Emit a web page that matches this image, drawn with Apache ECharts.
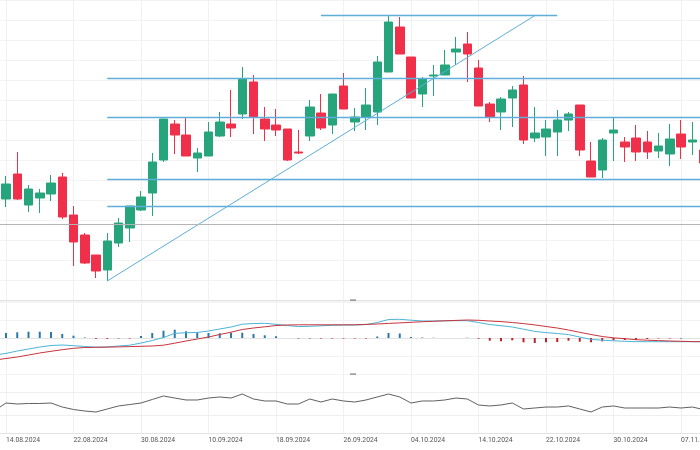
<!DOCTYPE html>
<html>
<head>
<meta charset="utf-8">
<script src="https://cdn.jsdelivr.net/npm/echarts@6/dist/echarts.min.js"></script>
<style>
html,body{margin:0;padding:0;background:#fff;}
#c{width:700px;height:450px;}
</style>
</head>
<body>
<div id="c"></div>
<script>
const dates = ['13.08.2024','14.08.2024','15.08.2024','16.08.2024','19.08.2024','20.08.2024','21.08.2024','22.08.2024','23.08.2024','26.08.2024','27.08.2024','28.08.2024','29.08.2024','30.08.2024',
'03.09.2024','04.09.2024','05.09.2024','06.09.2024','09.09.2024','10.09.2024','11.09.2024','12.09.2024','13.09.2024','16.09.2024','17.09.2024','18.09.2024','19.09.2024','20.09.2024','23.09.2024','24.09.2024','25.09.2024','26.09.2024','27.09.2024','30.09.2024',
'01.10.2024','02.10.2024','03.10.2024','04.10.2024','07.10.2024','08.10.2024','09.10.2024','10.10.2024','11.10.2024','14.10.2024','15.10.2024','16.10.2024','17.10.2024','18.10.2024','21.10.2024','22.10.2024','23.10.2024','24.10.2024','25.10.2024','28.10.2024','29.10.2024','30.10.2024','31.10.2024',
'01.11.2024','04.11.2024','05.11.2024','06.11.2024','07.11.2024','08.11.2024','11.11.2024'];

const opens  = ['-',50.5,63,47.5,51,53,61.5,42.5,32.5,22.5,15,28.5,36,45,53.5,70,88,82.5,71,72,82,88,93,109,90.5,87.5,85.5,74,82,93.5,87.5,107,89,91.5,94,114,136.5,121.5,103,112,112.5,124,128,116,98,94,101,107.5,81,81.5,84,90,97.5,69.5,65,83.5,79,81,79,74.5,73,83,79,75];
const closes = ['-',58,50.5,55.5,53.5,58.5,41.5,29,18.5,14.5,29.5,38.5,47,51.5,69,90.5,82.5,72,73.5,84,89,86,110.5,91.5,85.5,85,70,73.5,96.5,86,103,95.5,91.5,97.5,119,139,123,101,110.5,112.5,117.5,125.5,123,97,91.5,100.5,105,80,83.5,85.5,90,93,75,61.5,80,85,76.5,74,74,77,80.5,76.5,80,68.5];
const lows   = ['-',46.5,50,44,43.5,49.5,40.5,17,18,11,9.5,26.5,29,44.5,42,69,73,72,64,72,81.5,81.5,90.5,83,79.5,82,69.5,73,79.5,85,83,95.5,84.5,85,87.5,114,123,101,96.5,102,112.5,117.5,109,97,89,85,86.5,78,79,72,72,84.5,72,61.5,61,69.5,69,69.5,70.5,71,67,70.5,72.5,66];
const highs  = ['-',62,74,57.5,55.5,62.5,63.5,47,33.5,22.5,33.5,41,47,54.5,73.5,90.5,90,91,76,89,94,105,116.5,112.5,96.5,95.5,85.5,85,100,103,103,113.5,96,106,122,142.2,141.5,121.5,111.5,117.5,125,131.5,134,120,99,101.5,107,112,96.5,90,95,94,97.5,79,81,91.5,81.5,87.5,84.5,83.5,88,90,89,80];

const macd   = [-1.71,-1.54,-1.30,-1.10,-0.90,-0.75,-0.70,-0.77,-0.85,-0.92,-0.90,-0.80,-0.72,-0.50,-0.25,0.05,0.47,0.52,0.56,0.70,0.90,1.10,1.38,1.45,1.47,1.37,1.25,1.14,1.17,1.22,1.27,1.29,1.30,1.34,1.55,1.85,1.87,1.78,1.70,1.70,1.72,1.73,1.73,1.55,1.35,1.23,1.10,0.88,0.66,0.54,0.45,0.34,0.10,-0.14,-0.22,-0.28,-0.33,-0.37,-0.37,-0.37,-0.37,-0.37,-0.37,-0.37];
const signal = [-2.20,-2.05,-1.90,-1.70,-1.50,-1.33,-1.17,-1.03,-0.95,-0.93,-0.91,-0.89,-0.86,-0.83,-0.80,-0.72,-0.52,-0.30,-0.10,0.10,0.35,0.58,0.85,1.00,1.12,1.25,1.30,1.32,1.32,1.32,1.32,1.32,1.32,1.36,1.40,1.46,1.51,1.57,1.63,1.67,1.72,1.76,1.80,1.77,1.70,1.64,1.55,1.44,1.31,1.15,1.00,0.80,0.57,0.35,0.15,0.02,-0.07,-0.17,-0.22,-0.26,-0.30,-0.33,-0.36,-0.37];
const hist   = ['-',0.50,0.57,0.63,0.63,0.60,0.40,0.23,0.05,-0.08,-0.08,-0.05,-0.05,0.20,0.50,0.73,0.83,0.67,0.57,0.50,0.47,0.53,0.53,0.40,0.27,0.17,0.00,-0.05,-0.05,-0.05,-0.05,-0.05,-0.05,-0.05,0.15,0.50,0.45,0.10,0.05,0.03,0.00,0.00,0.03,-0.07,-0.27,-0.33,-0.23,-0.43,-0.50,-0.43,-0.40,-0.27,-0.37,-0.43,-0.33,-0.23,-0.20,-0.17,-0.10,-0.05,-0.05,-0.05,0,0];
const rsi    = [38.8,51.7,50.0,50.9,50.9,51.7,44.8,40.5,37.9,36.2,41.4,46.6,49.1,51.7,57.8,63.8,60.3,56.9,56.9,60.3,62.1,60.3,67.2,58.6,55.2,55.2,50.0,50.0,58.6,53.4,58.6,55.2,53.4,56.9,62.1,67.2,62.1,51.7,55.2,55.2,56.9,60.3,58.6,48.3,46.6,48.3,51.7,41.4,43.1,44.8,44.8,46.6,41.4,36.2,44.8,46.6,43.1,43.1,43.1,43.1,44.8,43.1,44.8,40.5];

const fibLevels = [110.9, 91.5, 60.2, 46.7];
const fibStart = '27.08.2024';
const fibEnd = '11.11.2024';
const highLevel = 142.2, lowLevel = 9.5;
const highLineStart = '24.09.2024', highLineEnd = '23.10.2024';
const trendStart = '27.08.2024', trendEnd = '21.10.2024';
const grayLevel = 38;
const rsiLevels = [70, 30];

const UP = '#26a47b', DOWN = '#f0304a', FIB = '#5eaed9';
const candles = dates.map((d, i) => opens[i] === '-' ? '-' : [opens[i], closes[i], lows[i], highs[i]]);

const labelEvery = (idx) => idx % 6 === 1;
function xAx(gi, showLabel) {
  return {
    type: 'category', gridIndex: gi, data: dates, boundaryGap: false,
    axisLine: { show: true, lineStyle: { color: '#e3e3e3', width: 1 } },
    axisTick: { show: false },
    axisLabel: showLabel ? { show: true, interval: labelEvery, align: 'left', color: '#555', fontSize: 6.8, fontFamily: 'Roboto', margin: 4, hideOverlap: false } : { show: false },
    splitLine: { show: true, interval: labelEvery, lineStyle: { color: '#f1f1f1', width: 1 } }
  };
}
function yAx(gi, min, max, interval, showSplit) {
  return {
    type: 'value', gridIndex: gi, min: min, max: max, interval: interval, scale: false,
    axisLine: { show: false }, axisTick: { show: false }, axisLabel: { show: false },
    splitLine: { show: showSplit, lineStyle: { color: '#f3f3f3', width: 1 } }
  };
}

const fibData = fibLevels.map(v => [{ coord: [fibStart, v] }, { coord: [fibEnd, v] }]);
fibData.push([{ coord: [highLineStart, highLevel] }, { coord: [highLineEnd, highLevel] }]);
fibData.push([{ coord: [trendStart, lowLevel], lineStyle: { width: 1 } }, { coord: [trendEnd, highLevel] }]);
fibData.push({ yAxis: grayLevel, lineStyle: { color: '#b4b4b4', width: 1.2 } });

const gridBase = { left: -5.25, right: -3.5, containLabel: false, outerBoundsMode: 'none' };
const chart = echarts.init(document.getElementById('c'), null, { renderer: 'canvas' });
chart.setOption({
  animation: false,
  backgroundColor: '#ffffff',
  grid: [
    Object.assign({ top: 0, height: 300 }, gridBase),
    Object.assign({ top: 301, height: 73 }, gridBase),
    Object.assign({ top: 375, height: 58 }, gridBase)
  ],
  xAxis: [xAx(0, false), xAx(1, false), xAx(2, true)],
  yAxis: [yAx(0, 0, 150, 10, true), yAx(1, -3.6, 3.7, 1.8, true), yAx(2, 0, 100, 50, false)],
  graphic: [
    { type: 'rect', shape: { x: 350, y: 299.5, width: 6, height: 1.2 }, style: { fill: '#777' }, z: 100 },
    { type: 'rect', shape: { x: 350, y: 373.5, width: 6, height: 1.2 }, style: { fill: '#777' }, z: 100 }
  ],
  series: [
    {
      type: 'candlestick', xAxisIndex: 0, yAxisIndex: 0, data: candles, barWidth: 9, clip: false,
      itemStyle: { color: UP, color0: DOWN, borderColor: UP, borderColor0: DOWN, borderWidth: 1 },
      markLine: {
        silent: true, symbol: ['none', 'none'], animation: false,
        label: { show: false },
        lineStyle: { color: FIB, width: 1.3, type: 'solid' },
        data: fibData
      }
    },
    {
      type: 'bar', xAxisIndex: 1, yAxisIndex: 1, data: hist, barWidth: 2,
      itemStyle: { color: p => (p.value >= 0 ? '#2a78ad' : '#b8232b') }
    },
    {
      type: 'line', xAxisIndex: 1, yAxisIndex: 1, data: macd, symbol: 'none', smooth: false,
      lineStyle: { color: '#4db3d6', width: 1 }
    },
    {
      type: 'line', xAxisIndex: 1, yAxisIndex: 1, data: signal, symbol: 'none', smooth: false,
      lineStyle: { color: '#c8343c', width: 1 }
    },
    {
      type: 'line', xAxisIndex: 2, yAxisIndex: 2, data: rsi, symbol: 'none',
      lineStyle: { color: '#606060', width: 1 },
      markLine: {
        silent: true, symbol: ['none', 'none'], label: { show: false },
        lineStyle: { color: '#efefef', width: 1, type: 'solid' },
        data: rsiLevels.map(v => ({ yAxis: v }))
      }
    }
  ]
});
</script>
</body>
</html>
